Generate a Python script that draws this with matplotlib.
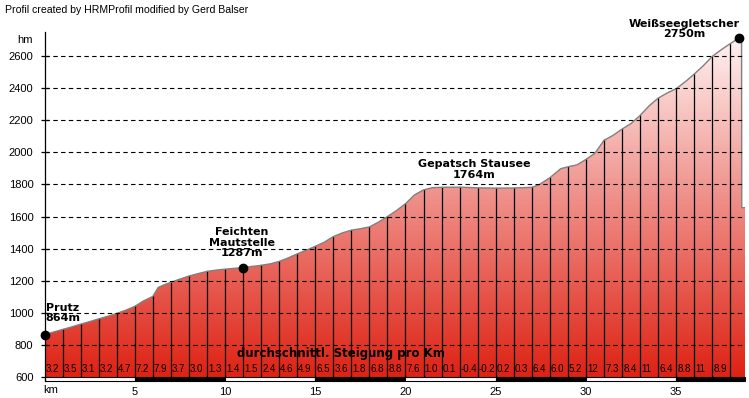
import numpy as np
import matplotlib.pyplot as plt
from matplotlib.patches import Polygon, Rectangle

# elevation profile (km, m)
km = [0, 0.5, 1, 1.5, 2, 2.5, 3, 3.5, 4, 4.5, 5, 5.5, 6, 6.3, 6.6, 7, 7.5, 8,
      8.5, 9, 9.5, 10, 10.5, 11, 11.5, 12, 12.5, 13, 13.5, 14, 14.5, 15, 15.5,
      16, 16.5, 17, 17.5, 18, 18.5, 19, 19.5, 20, 20.5, 21, 21.5, 22, 23, 24,
      25, 26, 27, 27.4, 28, 28.6, 29, 29.5, 30, 30.5, 31, 31.5, 32, 32.5, 33,
      33.5, 34, 34.5, 35, 35.5, 36, 36.5, 37, 37.5, 38, 38.45, 38.62, 38.63, 38.81]
elev = [864, 880, 896, 912, 929, 945, 962, 978, 996, 1016, 1040, 1075, 1102,
        1158, 1173, 1190, 1210, 1229, 1244, 1258, 1266, 1272, 1277, 1282, 1289,
        1296, 1305, 1320, 1342, 1367, 1390, 1414, 1440, 1475, 1498, 1515, 1524,
        1535, 1565, 1600, 1637, 1680, 1735, 1766, 1780, 1782, 1783, 1779, 1777,
        1778, 1782, 1798, 1842, 1898, 1910, 1922, 1956, 1995, 2075, 2106, 2145,
        2180, 2230, 2290, 2338, 2370, 2397, 2440, 2488, 2540, 2598, 2640, 2678,
        2711, 2705, 1655, 1655]

# average gradient per km (%)
grades = [3.2, 3.5, 3.1, 3.2, 4.7, 7.2, 7.9, 3.7, 3.0, 1.3, 1.4, 1.5, 2.4, 4.6,
          4.9, 6.5, 3.6, 1.8, 6.8, 8.8, 7.6, 1.0, 0.1, -0.4, -0.2, 0.2, 0.3, 6.4,
          6.0, 5.2, 12, 7.3, 8.4, 11, 6.4, 8.8, 11, 8.9]

yticks = [600, 800, 1000, 1200, 1400, 1600, 1800, 2000, 2200, 2400, 2600]
xticks = [5, 10, 15, 20, 25, 30, 35]

# waypoints: label, km, elevation of the marker, label position
places = ["Prutz\n864m", "Feichten\nMautstelle\n1287m",
          "Gepatsch Stausee\n1764m", "Weißseegletscher\n2750m"]
place_km = [0, 11, None, 38.45]
place_elev = [864, 1282, None, 2711]
label_x = [1.0, 10.93, 23.8, 35.43]
label_y = [999, 1438, 1893, 2769]

xmax = 38.81
ymin, ymax = 575, 2750

fig = plt.figure(figsize=(7.49, 3.98), dpi=100)
ax = fig.add_axes([44.5 / 749, 17 / 398, (745 - 44.5) / 749, 349 / 398])
ax.set_xlim(0, xmax)
ax.set_ylim(ymin, ymax)

# gradient fill under the profile
bottom = np.array([222, 34, 20]) / 255
top = np.array([255, 245, 245]) / 255
t = np.linspace(0, 1, 256)[:, None]
grad = (bottom + (top - bottom) * t)[:, None, :]
img = ax.imshow(grad, extent=(0, xmax, 600, ymax), origin='lower',
                aspect='auto', zorder=1, interpolation='bilinear')
verts = [(km[0], 600)] + list(zip(km, elev)) + [(km[-1], 600)]
poly = Polygon(verts, closed=True, facecolor='none', edgecolor='none')
ax.add_patch(poly)
img.set_clip_path(poly)

# km lines
for k in range(1, 39):
    ax.plot([k, k], [600, np.interp(k, km, elev)], color='black', lw=0.9, zorder=2)

ax.plot(km, elev, color='#808080', lw=1, zorder=3)

# dashed grid
for y in yticks[1:]:
    ax.axhline(y, color='black', lw=0.8, dashes=(4, 3), zorder=4)

# gradient numbers
for i, g in enumerate(grades):
    s = f"{g:.0f}" if abs(g) >= 10 else f"{g:.1f}"
    ax.text(i + 0.06, 652, s, fontsize=7, family='Liberation Sans',
            ha='left', va='center', zorder=5)
ax.text(16.4, 745, "durchschnittl. Steigung pro Km", fontsize=8.5,
        fontweight='bold', ha='center', va='center', zorder=5)

# km bar
for i in range(8):
    x0 = i * 5
    w = min(5, xmax - x0)
    ax.add_patch(Rectangle((x0, ymin), w, 600 - ymin,
                           facecolor='white' if i % 2 == 0 else 'black',
                           edgecolor='black', lw=0.8, zorder=5, clip_on=False))

# waypoints
for lab, pk, pe, lx, ly in zip(places, place_km, place_elev, label_x, label_y):
    if pk is not None:
        ax.plot(pk, pe, 'o', color='black', ms=6, zorder=6, clip_on=False)
    ax.text(lx, ly, lab, fontsize=8, fontweight='bold', ha='center',
            va='center', linespacing=1.05, zorder=6, clip_on=False)

for s in ['top', 'right', 'bottom']:
    ax.spines[s].set_visible(False)
ax.spines['left'].set_linewidth(0.9)
ax.spines['left'].set_zorder(6)

ax.set_yticks(yticks)
ax.set_yticklabels([str(v) for v in yticks], family='Liberation Sans', fontsize=8)
ax.tick_params(axis='y', direction='inout', length=6, width=0.9, pad=5)
ax.set_xticks(xticks)
ax.set_xticklabels([str(v) for v in xticks], family='Liberation Sans', fontsize=8)
ax.tick_params(axis='x', length=0, pad=4)

ax.annotate("km", xy=(0, 0), xycoords='axes fraction', xytext=(-1, -4),
            textcoords='offset pixels', ha='left', va='top',
            family='Liberation Sans', fontsize=8)
ax.annotate("hm", xy=(0, 2700), xycoords=('axes fraction', 'data'),
            xytext=(-12, 0), textcoords='offset pixels', ha='right',
            va='center', family='Liberation Sans', fontsize=8)

fig.text(5 / 749, 1 - 10 / 398, "Profil created by HRMProfil modified by Gerd Balser",
         fontsize=7.6, family='Liberation Sans', va='center', ha='left')

fig.savefig('out.png', dpi=100)
